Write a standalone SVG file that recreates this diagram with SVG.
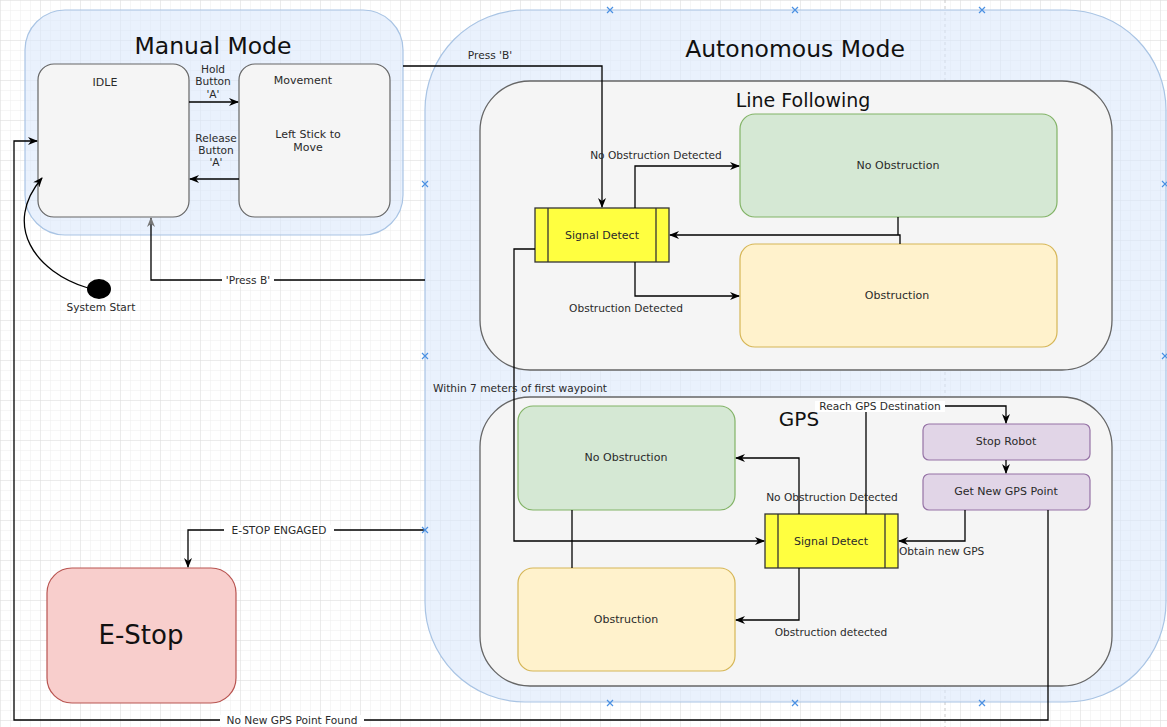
<svg xmlns="http://www.w3.org/2000/svg" width="1167" height="727" viewBox="0 0 1167 727">
<defs>
<pattern id="minor" width="10" height="10" patternUnits="userSpaceOnUse"><path d="M10 0 L0 0 0 10" fill="none" stroke="#ededed" stroke-width="1"/></pattern>
<pattern id="major" width="40" height="40" patternUnits="userSpaceOnUse"><rect width="40" height="40" fill="url(#minor)"/><path d="M40 0 L0 0 0 40" fill="none" stroke="#dedede" stroke-width="1"/></pattern>
<marker id="ar" viewBox="0 0 10 8" refX="9" refY="4" markerWidth="10" markerHeight="8" markerUnits="userSpaceOnUse" orient="auto"><path d="M0,0 L10,4 L0,8 L3,4 z" fill="#000"/></marker>
<marker id="arg" viewBox="0 0 10 8" refX="9" refY="4" markerWidth="10" markerHeight="8" markerUnits="userSpaceOnUse" orient="auto"><path d="M0,0 L10,4 L0,8 L3,4 z" fill="#777"/></marker>
</defs>
<style>
text{font-family:"DejaVu Sans","Liberation Sans",sans-serif;fill:#2a2a2a;}
.lbl{font-size:10.6px;text-anchor:middle;}
.nd{font-size:11px;text-anchor:middle;}
.title{text-anchor:middle;fill:#111;}
.sub{text-anchor:middle;fill:#111;}
.cont{fill:#dae8fc;fill-opacity:0.6;stroke:#a9c4e4;stroke-width:1.2;}
.inner{fill:#f5f5f5;stroke:#666;stroke-width:1.3;}
.gray{fill:#f5f5f5;stroke:#666;stroke-width:1.2;}
.green{fill:#d5e8d4;stroke:#82b366;stroke-width:1.2;}
.yel{fill:#fff2cc;stroke:#d6b656;stroke-width:1.2;}
.sig{fill:#ffff40;stroke:#333;stroke-width:1.3;}
.pur{fill:#e1d5e7;stroke:#9673a6;stroke-width:1.2;}
.red{fill:#f8cecc;stroke:#b85450;stroke-width:1.2;}
.e{fill:none;stroke:#000;stroke-width:1.3;}
.bx{fill:none;stroke:#4a90e2;stroke-width:1.2;}
.bg{fill:#fff;}
</style>
<rect width="1167" height="727" fill="#fff"/>
<rect width="1167" height="727" fill="url(#major)"/>
<line x1="945" y1="0" x2="945" y2="727" stroke="#c8c8c8" stroke-dasharray="3,3"/>

<g id="manual-mode">
<rect class="cont" x="25" y="10" width="378" height="225" rx="40"/>
<text class="title" x="213" y="54" style="font-size:23.5px">Manual Mode</text>
</g>
<g id="autonomous-mode">
<rect class="cont" x="425" y="10" width="741" height="692" rx="100"/>
<text class="title" x="795" y="57" style="font-size:23.5px">Autonomous Mode</text>
</g>
<g id="line-following">
<rect class="inner" x="480" y="81" width="632" height="289" rx="50"/>
<text class="sub" x="803" y="107" style="font-size:19px">Line Following</text>
</g>
<g id="gps">
<rect class="inner" x="480" y="397" width="632" height="289" rx="50"/>
<text class="sub" x="799" y="426" style="font-size:20px">GPS</text>
</g>

<g id="idle">
<rect class="gray" x="38" y="64" width="151" height="153" rx="16"/>
<text class="nd" x="105" y="86">IDLE</text>
</g>
<g id="movement">
<rect class="gray" x="239" y="64" width="151" height="153" rx="16"/>
<text class="nd" x="303" y="84">Movement</text>
<text class="nd" x="308" y="138">Left Stick to</text>
<text class="nd" x="308" y="151">Move</text>
</g>
<g id="lf-no-obstruction">
<rect class="green" x="740" y="114" width="317" height="103" rx="15"/>
<text class="nd" x="898" y="169">No Obstruction</text>
</g>
<g id="lf-obstruction">
<rect class="yel" x="740" y="244" width="317" height="103" rx="15"/>
<text class="nd" x="897" y="299">Obstruction</text>
</g>
<g id="lf-signal-detect">
<rect class="sig" x="535" y="208" width="134" height="54"/>
<line x1="548" y1="208" x2="548" y2="262" stroke="#333" stroke-width="1.3"/>
<line x1="656" y1="208" x2="656" y2="262" stroke="#333" stroke-width="1.3"/>
<text class="nd" x="602" y="239">Signal Detect</text>
</g>
<g id="gps-no-obstruction">
<rect class="green" x="518" y="406" width="217" height="104" rx="15"/>
<text class="nd" x="626" y="461">No Obstruction</text>
</g>
<g id="gps-obstruction">
<rect class="yel" x="518" y="568" width="217" height="103" rx="15"/>
<text class="nd" x="626" y="623">Obstruction</text>
</g>
<g id="gps-signal-detect">
<rect class="sig" x="765" y="514" width="133" height="54"/>
<line x1="778" y1="514" x2="778" y2="568" stroke="#333" stroke-width="1.3"/>
<line x1="885" y1="514" x2="885" y2="568" stroke="#333" stroke-width="1.3"/>
<text class="nd" x="831" y="545">Signal Detect</text>
</g>
<g id="stop-robot">
<rect class="pur" x="923" y="424" width="167" height="36" rx="6"/>
<text class="nd" x="1006" y="445">Stop Robot</text>
</g>
<g id="get-new-gps">
<rect class="pur" x="923" y="474" width="167" height="36" rx="6"/>
<text class="nd" x="1006" y="495">Get New GPS Point</text>
</g>
<g id="e-stop">
<rect class="red" x="47" y="568" width="189" height="135" rx="25"/>
<text x="141" y="644" style="font-size:26px;text-anchor:middle;fill:#111">E-Stop</text>
</g>
<g id="system-start">
<ellipse cx="99" cy="289" rx="12" ry="10" fill="#000"/>
<text class="lbl" x="101" y="311">System Start</text>
</g>

<g id="connectors">
<path class="e" d="M189 102 L238 102" marker-end="url(#ar)"/>
<path class="e" d="M239 179 L190 179" marker-end="url(#ar)"/>
<path class="e" d="M88 288 C35 272 2 225 42 178" marker-end="url(#ar)"/>
<path class="e" d="M403 66 L602 66 L602 207" marker-end="url(#ar)"/>
<path class="e" d="M425 280 L151 280 L151 218" stroke="#555" marker-end="url(#arg)"/>
<path class="e" d="M635 208 L635 166 L739 166" marker-end="url(#ar)"/>
<path class="e" d="M635 262 L635 296 L739 296" marker-end="url(#ar)"/>
<path class="e" d="M898 217 L898 235"/>
<path class="e" d="M900 244 L900 235 L670 235" marker-end="url(#ar)"/>
<path class="e" d="M535 249 L514 249 L514 541 L764 541" marker-end="url(#ar)"/>
<path class="e" d="M572 510 L572 568"/>
<path class="e" d="M799 514 L799 458 L736 458" marker-end="url(#ar)"/>
<path class="e" d="M799 568 L799 620 L736 620" marker-end="url(#ar)"/>
<path class="e" d="M866 514 L866 406 L1006 406 L1006 423" marker-end="url(#ar)"/>
<path class="e" d="M1006 460 L1006 473" marker-end="url(#ar)"/>
<path class="e" d="M965 510 L965 541 L899 541" marker-end="url(#ar)"/>
<path class="e" d="M1048 510 L1048 720 L14 720 L14 141 L37 141" marker-end="url(#ar)"/>
<path class="e" d="M425 530 L188 530 L188 567" marker-end="url(#ar)"/>

<text class="lbl" x="213" y="73">Hold</text>
<text class="lbl" x="213" y="85">Button</text>
<text class="lbl" x="213" y="98">'A'</text>
<text class="lbl" x="216" y="142">Release</text>
<text class="lbl" x="216" y="154">Button</text>
<text class="lbl" x="216" y="166">'A'</text>
<text class="lbl" x="490" y="59">Press 'B'</text>
<rect class="bg" x="222" y="275" width="52" height="11"/>
<text class="lbl" x="248" y="284">'Press B'</text>
<text class="lbl" x="656" y="159">No Obstruction Detected</text>
<text class="lbl" x="626" y="312">Obstruction Detected</text>
<text class="lbl" x="433" y="392" style="text-anchor:start">Within 7 meters of first waypoint</text>
<rect class="bg" x="815" y="401" width="130" height="11"/>
<text class="lbl" x="880" y="410">Reach GPS Destination</text>
<text class="lbl" x="832" y="501">No Obstruction Detected</text>
<text class="lbl" x="899" y="555" style="text-anchor:start">Obtain new GPS</text>
<text class="lbl" x="831" y="636">Obstruction detected</text>
<rect class="bg" x="224" y="525" width="110" height="11"/>
<text class="lbl" x="279" y="534">E-STOP ENGAGED</text>
<rect class="bg" x="220" y="715" width="144" height="11"/>
<text class="lbl" x="292" y="724">No New GPS Point Found</text>
</g>

<g id="markers">
<path class="bx" d="M607 7 l6 6 M613 7 l-6 6 M792 7 l6 6 M798 7 l-6 6 M979 7 l6 6 M985 7 l-6 6 M422 181 l6 6 M428 181 l-6 6 M422 353 l6 6 M428 353 l-6 6 M422 527 l6 6 M428 527 l-6 6 M1162 181 l6 6 M1168 181 l-6 6 M1162 353 l6 6 M1168 353 l-6 6 M607 700 l6 6 M613 700 l-6 6 M792 700 l6 6 M798 700 l-6 6 M979 700 l6 6 M985 700 l-6 6"/>
</g>
</svg>
